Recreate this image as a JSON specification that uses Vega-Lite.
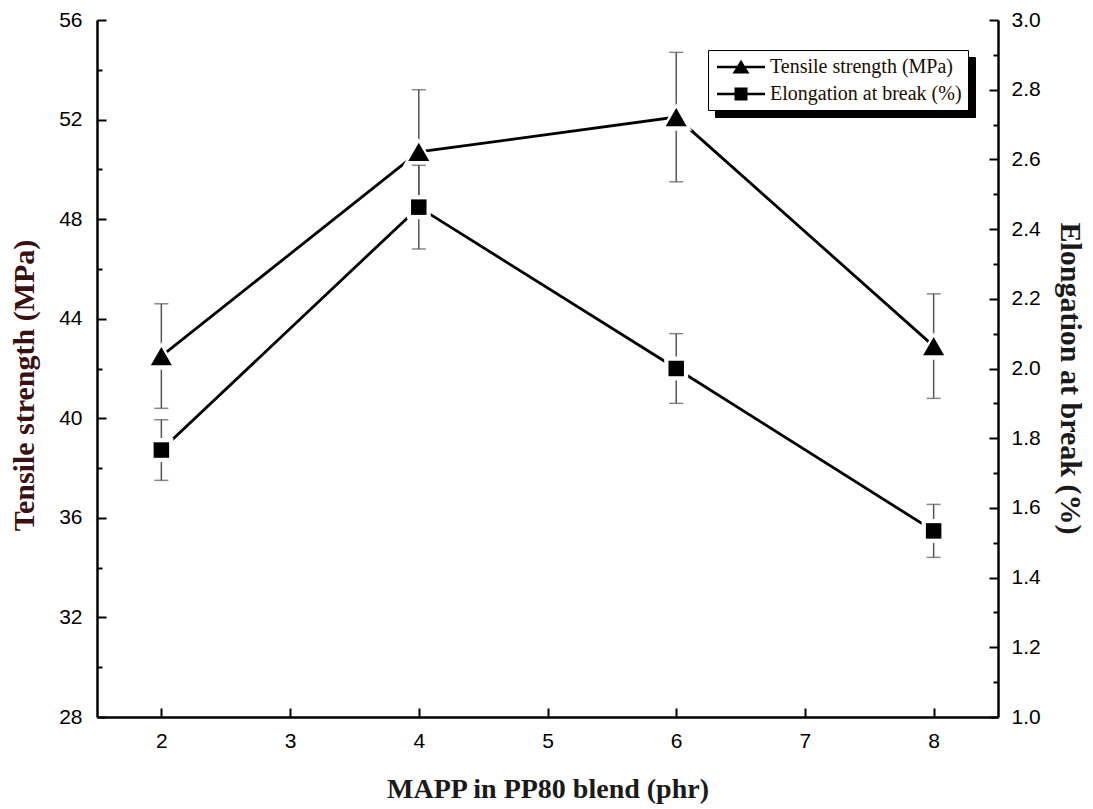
{
  "$schema": "https://vega.github.io/schema/vega-lite/v6.json",
  "width": 901,
  "height": 697,
  "autosize": {"type": "none"},
  "padding": {"left": 97, "top": 20, "right": 95, "bottom": 92},
  "background": "white",
  "config": {
    "view": {"stroke": null},
    "axis": {
      "grid": false,
      "domainColor": "black",
      "domainWidth": 2.5,
      "tickColor": "black",
      "tickWidth": 2,
      "labelFont": "Liberation Sans",
      "labelFontSize": 21,
      "labelColor": "black",
      "titleFont": "Liberation Serif",
      "titleFontSize": 28,
      "titleFontWeight": "bold",
      "titleColor": "#1a1a1a"
    },
    "legend": {
      "orient": "none",
      "legendX": 611,
      "legendY": 30,
      "strokeColor": "black",
      "fillColor": "white",
      "padding": 6,
      "labelFont": "Liberation Serif",
      "labelFontSize": 20,
      "labelColor": "#1a0d00",
      "labelOffset": 34,
      "labelLimit": 400,
      "symbolSize": 400,
      "symbolOpacity": 1,
      "rowPadding": 6
    }
  },
  "datasets": {
    "d": [
      {"mapp": 2, "series": "Tensile strength (MPa)", "value": 42.5, "err": 2.1},
      {"mapp": 4, "series": "Tensile strength (MPa)", "value": 50.7, "err": 2.5},
      {"mapp": 6, "series": "Tensile strength (MPa)", "value": 52.1, "err": 2.6},
      {"mapp": 8, "series": "Tensile strength (MPa)", "value": 42.9, "err": 2.1},
      {"mapp": 2, "series": "Elongation at break (%)", "value": 1.766, "err": 0.087},
      {"mapp": 4, "series": "Elongation at break (%)", "value": 2.463, "err": 0.12},
      {"mapp": 6, "series": "Elongation at break (%)", "value": 2.0, "err": 0.1},
      {"mapp": 8, "series": "Elongation at break (%)", "value": 1.534, "err": 0.076}
    ]
  },
  "data": {"name": "d"},
  "encoding": {
    "x": {
      "field": "mapp",
      "type": "quantitative",
      "scale": {"domain": [1.5, 8.5], "nice": false, "zero": false},
      "axis": {
        "values": [2, 3, 4, 5, 6, 7, 8],
        "tickSize": -9,
        "labelPadding": 22,
        "title": "MAPP in PP80 blend (phr)",
        "titlePadding": 24
      }
    }
  },
  "layer": [
    {
      "transform": [{"filter": "datum.series === 'Tensile strength (MPa)'"}],
      "encoding": {
        "y": {
          "field": "value",
          "type": "quantitative",
          "scale": {"domain": [28, 56], "nice": false, "zero": false},
          "axis": {
            "orient": "left",
            "values": [28, 30, 32, 34, 36, 38, 40, 42, 44, 46, 48, 50, 52, 54, 56],
            "labelExpr": "datum.value % 4 === 0 ? datum.label : ''",
            "tickSize": {"condition": {"test": "datum.value % 4 === 0", "value": -9}, "value": -5},
            "labelPadding": 24,
            "title": "Tensile strength (MPa)",
            "titleColor": "#3a1010",
            "titleFontSize": 30,
            "titleY": 365,
            "titlePadding": 19
          }
        }
      },
      "layer": [
        {
          "mark": {"type": "errorbar", "ticks": true, "color": "#555555", "thickness": 1.5, "size": 14},
          "encoding": {"yError": {"field": "err"}}
        },
        {
          "mark": {"type": "line", "strokeWidth": 2.8},
          "encoding": {
            "color": {"field": "series", "type": "nominal", "sort": "ascending", "scale": {"range": ["black", "black"]},
              "legend": {"title": null, "legendX": 618, "legendY": 37, "fillColor": "black", "strokeColor": "black", "labelColor": "black"}}
          }
        },
        {
          "mark": {"type": "point", "filled": true, "opacity": 1, "color": "white", "size": 1000, "shape": "triangle-up"}
        },
        {
          "mark": {"type": "point", "filled": true, "opacity": 1, "color": "black", "size": 440, "shape": "triangle-up"}
        },
        {
          "mark": {"type": "point", "filled": true, "opacity": 0, "color": "black"},
          "encoding": {
            "shape": {"field": "series", "type": "nominal", "sort": "descending",
              "scale": {"range": ["M-0.8,-0.13H4.0V0.13H-0.8ZM0.75,0.65L1.6,-0.72L2.45,0.65Z", "M-0.8,-0.13H4.0V0.13H-0.8ZM0.95,-0.65H2.25V0.65H0.95Z"]},
              "legend": {"title": null}}
          }
        }
      ]
    },
    {
      "transform": [{"filter": "datum.series === 'Elongation at break (%)'"}],
      "encoding": {
        "y": {
          "field": "value",
          "type": "quantitative",
          "scale": {"domain": [1.0, 3.0], "nice": false, "zero": false},
          "axis": {
            "orient": "right",
            "values": [1.0, 1.1, 1.2, 1.3, 1.4, 1.5, 1.6, 1.7, 1.8, 1.9, 2.0, 2.1, 2.2, 2.3, 2.4, 2.5, 2.6, 2.7, 2.8, 2.9, 3.0],
            "labelExpr": "round(datum.value * 10) % 2 === 0 ? format(datum.value, '.1f') : ''",
            "tickSize": {"condition": {"test": "round(datum.value * 10) % 2 === 0", "value": -9}, "value": -5},
            "labelPadding": 22,
            "title": "Elongation at break (%)",
            "titleFontSize": 30,
            "titleY": 358,
            "titlePadding": 14
          }
        }
      },
      "layer": [
        {
          "mark": {"type": "errorbar", "ticks": true, "color": "#555555", "thickness": 1.5, "size": 14},
          "encoding": {"yError": {"field": "err"}}
        },
        {
          "mark": {"type": "line", "strokeWidth": 2.8},
          "encoding": {
            "color": {"field": "series", "type": "nominal", "sort": "ascending", "scale": {"range": ["black", "black"]},
              "legend": {"title": null, "legendX": 618, "legendY": 37, "fillColor": "black", "strokeColor": "black", "labelColor": "black"}}
          }
        },
        {
          "mark": {"type": "point", "filled": true, "opacity": 1, "color": "white", "size": 576, "shape": "square"}
        },
        {
          "mark": {"type": "point", "filled": true, "opacity": 1, "color": "black", "size": 240, "shape": "square"}
        },
        {
          "mark": {"type": "point", "filled": true, "opacity": 0, "color": "black"},
          "encoding": {
            "shape": {"field": "series", "type": "nominal", "sort": "descending",
              "scale": {"range": ["M-0.8,-0.13H4.0V0.13H-0.8ZM0.75,0.65L1.6,-0.72L2.45,0.65Z", "M-0.8,-0.13H4.0V0.13H-0.8ZM0.95,-0.65H2.25V0.65H0.95Z"]},
              "legend": {"title": null}}
          }
        }
      ]
    }
  ],
  "resolve": {"scale": {"y": "independent"}}
}
